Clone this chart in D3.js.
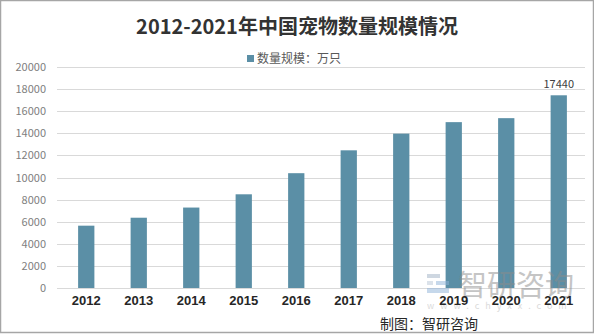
<!DOCTYPE html>
<html>
<head>
<meta charset="utf-8">
<script src="https://cdn.jsdelivr.net/npm/d3@7"></script>
<style>
  html, body { margin: 0; padding: 0; background: #fff; }
  svg { display: block; }
</style>
</head>
<body>
<svg id="chart" width="594" height="334"></svg>
<script>
// 2012-2021 pet population in China (10k animals)
const years = ["2012", "2013", "2014", "2015", "2016", "2017", "2018", "2019", "2020", "2021"];
const petCounts = [5640, 6360, 7280, 8480, 10390, 12460, 13970, 15010, 15370, 17440];
const yTicks = [0, 2000, 4000, 6000, 8000, 10000, 12000, 14000, 16000, 18000, 20000];
const labeledYears = ["2021"];

const titleText = "2012-2021年中国宠物数量规模情况";
const legendText = "数量规模：万只";
const sourceText = "制图：智研咨询";

const W = 594, H = 334;
const barColor = "#5b8fa6";
const font = "'Noto Sans CJK SC', 'Noto Sans', sans-serif";

const svg = d3.select("#chart");

// outer frame
svg.append("rect")
  .attr("x", 0.5).attr("y", 0.5)
  .attr("width", W - 1).attr("height", H - 2)
  .attr("fill", "#fff").attr("stroke", "#a6a6a6").attr("stroke-width", 1.5);

const x = d3.scaleBand().domain(years).range([60, 585]).paddingInner(0.69).paddingOuter(0.345);
const y = d3.scaleLinear().domain([0, 20000]).range([288, 67]);

// gridlines
svg.append("g")
  .selectAll("line")
  .data(yTicks)
  .join("line")
  .attr("x1", 57).attr("x2", 585)
  .attr("y1", d => Math.round(y(d)) + 0.5).attr("y2", d => Math.round(y(d)) + 0.5)
  .attr("stroke", "#d9d9d9").attr("stroke-width", 1);

// y axis labels
const yAxis = d3.axisLeft(y).tickValues(yTicks).tickSize(0).tickPadding(0).tickFormat(d3.format("d"));
const yg = svg.append("g").attr("transform", "translate(46,0)").call(yAxis);
yg.select(".domain").remove();
yg.selectAll("text")
  .attr("font-family", font).attr("font-size", 11).attr("fill", "#808080");

// bars
svg.append("g")
  .selectAll("rect")
  .data(years.map((yr, i) => ({ yr, v: petCounts[i] })))
  .join("rect")
  .attr("x", d => x(d.yr))
  .attr("width", x.bandwidth())
  .attr("y", d => y(d.v))
  .attr("height", d => y(0) - y(d.v))
  .attr("fill", barColor);

// watermark (logo + site name), drawn beneath the axis labels
const wm = svg.append("g").attr("opacity", 0.5);
wm.append("rect").attr("x", 427).attr("y", 274).attr("width", 13).attr("height", 4).attr("fill", "#9fb0c4");
wm.append("rect").attr("x", 427).attr("y", 281).attr("width", 6).attr("height", 4).attr("fill", "#b8c6d6");
wm.append("rect").attr("x", 436).attr("y", 281).attr("width", 13).attr("height", 4).attr("fill", "#8fb3d9");
wm.append("rect").attr("x", 427).attr("y", 288).attr("width", 22).attr("height", 5).attr("fill", "#8fb3d9");
wm.append("text")
  .attr("x", 458).attr("y", 296)
  .attr("font-family", font).attr("font-size", 29).attr("fill", "#8c8c8c")
  .text("智研咨询");
wm.append("text")
  .attr("x", 427).attr("y", 309)
  .attr("font-family", font).attr("font-size", 9).attr("fill", "#b8b8b8")
  .attr("letter-spacing", 6)
  .text("www.chyxx.com");

// x axis labels
const xAxis = d3.axisBottom(x).tickSize(0).tickPadding(0);
const xg = svg.append("g").attr("transform", "translate(0,296)").call(xAxis);
xg.select(".domain").remove();
xg.selectAll("text")
  .attr("font-family", "'Liberation Sans', Arial, sans-serif").attr("font-weight", "bold")
  .attr("font-size", 13).attr("fill", "#262626");

// value labels
svg.append("g")
  .selectAll("text")
  .data(years.map((yr, i) => ({ yr, v: petCounts[i] })).filter(d => labeledYears.includes(d.yr)))
  .join("text")
  .attr("x", d => x(d.yr) + x.bandwidth() / 2)
  .attr("y", d => y(d.v) - 7)
  .attr("text-anchor", "middle")
  .attr("font-family", font).attr("font-size", 11).attr("fill", "#404040")
  .text(d => d.v);

// title
svg.append("text")
  .attr("x", 297).attr("y", 34)
  .attr("text-anchor", "middle")
  .attr("font-family", font).attr("font-weight", "bold")
  .attr("font-size", 20).attr("fill", "#333")
  .text(titleText);

// legend
svg.append("rect").attr("x", 247).attr("y", 55).attr("width", 7).attr("height", 7).attr("fill", barColor);
svg.append("text")
  .attr("x", 257).attr("y", 63)
  .attr("font-family", font).attr("font-size", 12).attr("fill", "#595959")
  .text(legendText);

// source
svg.append("text")
  .attr("x", 380).attr("y", 329)
  .attr("font-family", font).attr("font-size", 14).attr("fill", "#262626")
  .text(sourceText);
</script>
</body>
</html>
